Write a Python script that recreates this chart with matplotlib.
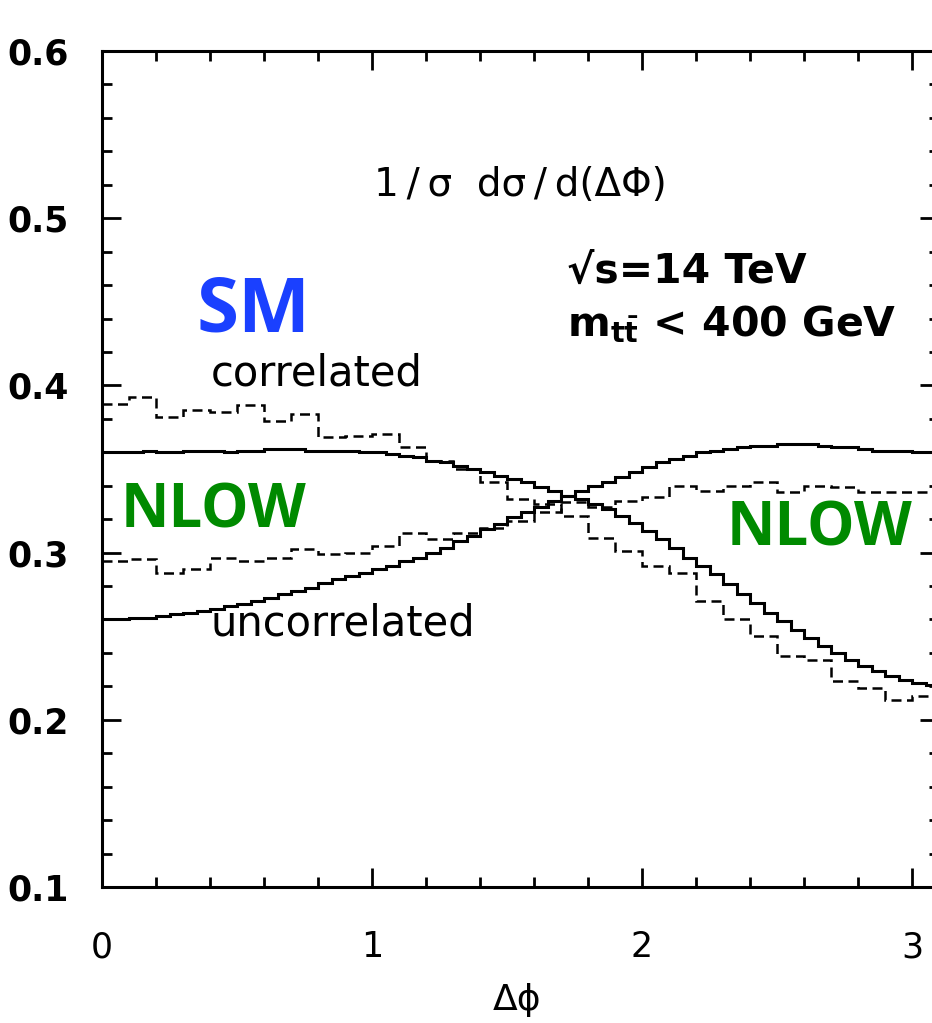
import numpy as np
import matplotlib
matplotlib.use("Agg")
import matplotlib.pyplot as plt
from matplotlib.ticker import MultipleLocator

# ---------------- data ----------------
# solid histograms, 62 bins of 0.05 from 0 to 3.1
solid_edges = np.linspace(0.0, 3.1, 63)
sm_correlated = [
    0.360, 0.360, 0.360, 0.361, 0.360, 0.360, 0.361, 0.361, 0.361, 0.360,
    0.361, 0.361, 0.362, 0.362, 0.362, 0.361, 0.361, 0.361, 0.361, 0.360,
    0.360, 0.359, 0.358, 0.357, 0.355, 0.354, 0.352, 0.350, 0.348, 0.346,
    0.344, 0.342, 0.339, 0.337, 0.334, 0.332, 0.329, 0.326, 0.322, 0.318,
    0.313, 0.308, 0.303, 0.297, 0.292, 0.287, 0.281, 0.275, 0.270, 0.264,
    0.259, 0.254, 0.249, 0.244, 0.240, 0.236, 0.232, 0.229, 0.226, 0.224,
    0.222, 0.221]
sm_uncorrelated = [
    0.260, 0.260, 0.261, 0.261, 0.262, 0.263, 0.264, 0.265, 0.266, 0.268,
    0.269, 0.271, 0.273, 0.275, 0.277, 0.279, 0.282, 0.284, 0.286, 0.288,
    0.290, 0.292, 0.295, 0.297, 0.300, 0.303, 0.307, 0.310, 0.314, 0.317,
    0.321, 0.324, 0.327, 0.331, 0.334, 0.337, 0.340, 0.342, 0.345, 0.348,
    0.351, 0.354, 0.356, 0.358, 0.360, 0.361, 0.362, 0.363, 0.364, 0.364,
    0.365, 0.365, 0.365, 0.364, 0.363, 0.363, 0.362, 0.361, 0.361, 0.361,
    0.360, 0.360]

# dashed histograms, 31 bins of 0.1 from 0 to 3.1
dashed_edges = np.linspace(0.0, 3.1, 32)
nlow_correlated = [
    0.389, 0.393, 0.381, 0.385, 0.384, 0.388, 0.379, 0.383, 0.369, 0.370,
    0.371, 0.363, 0.355, 0.350, 0.342, 0.332, 0.329, 0.322, 0.309, 0.301,
    0.292, 0.288, 0.271, 0.260, 0.250, 0.238, 0.236, 0.223, 0.219, 0.212,
    0.214]
nlow_uncorrelated = [
    0.295, 0.296, 0.288, 0.290, 0.297, 0.295, 0.297, 0.302, 0.299, 0.300,
    0.304, 0.312, 0.308, 0.312, 0.315, 0.319, 0.324, 0.330, 0.327, 0.331,
    0.333, 0.340, 0.337, 0.340, 0.342, 0.336, 0.340, 0.339, 0.336, 0.336,
    0.336]

x_major_ticks = [0, 1, 2, 3]
y_major_ticks = [0.1, 0.2, 0.3, 0.4, 0.5, 0.6]
y_tick_labels = ["0.1", "0.2", "0.3", "0.4", "0.5", "0.6"]

# ---------------- figure ----------------
W, H = 932, 1023
fig = plt.figure(figsize=(W / 100, H / 100), dpi=100)
plt.rcParams['mathtext.fontset'] = 'custom'
plt.rcParams['mathtext.rm'] = 'DejaVu Sans'
plt.rcParams['mathtext.bf'] = 'DejaVu Sans:bold'

left_px, right_px, top_px, bottom_px = 102, 939, 51, 887
ax = fig.add_axes([left_px / W, 1 - bottom_px / H,
                   (right_px - left_px) / W, (bottom_px - top_px) / H])
ax.set_xlim(0, 3.1)
ax.set_ylim(0.1, 0.6)

lw_solid = 2.2
lw_dash = 1.8
ax.stairs(sm_correlated, solid_edges, baseline=None, color='black', linewidth=lw_solid)
ax.stairs(sm_uncorrelated, solid_edges, baseline=None, color='black', linewidth=lw_solid)
ax.stairs(nlow_correlated, dashed_edges, baseline=None, color='black',
          linewidth=lw_dash, linestyle=(0, (4, 2.2)))
ax.stairs(nlow_uncorrelated, dashed_edges, baseline=None, color='black',
          linewidth=lw_dash, linestyle=(0, (4, 2.2)))

for s in ax.spines.values():
    s.set_linewidth(2.2)

ax.set_xticks(x_major_ticks)
ax.set_xticklabels([str(t) for t in x_major_ticks])
ax.xaxis.set_minor_locator(MultipleLocator(0.2))
ax.set_yticks(y_major_ticks)
ax.set_yticklabels(y_tick_labels)
ax.yaxis.set_minor_locator(MultipleLocator(0.02))
ax.tick_params(which='both', direction='in', top=True, right=True, width=2.0)
ax.tick_params(which='major', length=14)
ax.tick_params(which='minor', length=7)
ax.tick_params(axis='x', which='major', pad=31, labelsize=25)
ax.tick_params(axis='y', which='major', pad=24, labelsize=25)
for lab in ax.get_yticklabels():
    lab.set_fontfamily('DejaVu Sans')
    lab.set_fontweight('bold')
for lab in ax.get_xticklabels():
    lab.set_fontfamily('DejaVu Sans')

def px(x, y):
    """figure pixel (from top-left) -> figure fraction"""
    return x / W, 1 - y / H

ft = fig.transFigure
fig.text(*px(517, 1000), 'Δϕ', transform=ft, ha='center', va='center',
         fontsize=26, family='DejaVu Sans')
fig.text(*px(520, 185), '1\u2009/\u2009σ  dσ\u2009/\u2009d(ΔΦ)', transform=ft,
         ha='center', va='center', fontsize=28, family='DejaVu Sans')
fig.text(*px(567, 272), '√s=14 TeV', transform=ft, ha='left', va='center',
         fontsize=29.5, fontweight='bold', family='DejaVu Sans')
fig.text(*px(567, 325), r'$\mathbf{m}_{\mathbf{t\bar{t}}}$ < 400 GeV', transform=ft,
         ha='left', va='center', fontsize=29.5, fontweight='bold',
         family='DejaVu Sans')
fig.text(*px(253, 312), 'SM', transform=ft, ha='center', va='center',
         fontsize=55, fontweight='bold', color='#1a40ff', family='Open Sans')
fig.text(*px(317, 373), 'correlated', transform=ft, ha='center', va='center',
         fontsize=30, family='DejaVu Sans')
fig.text(*px(343, 624), 'uncorrelated', transform=ft, ha='center', va='center',
         fontsize=30, family='DejaVu Sans')
fig.text(*px(213, 512), 'NLOW', transform=ft, ha='center', va='center',
         fontsize=43, fontweight='bold', color='#008a00', family='Open Sans')
fig.text(*px(820, 530), 'NLOW', transform=ft, ha='center', va='center',
         fontsize=43, fontweight='bold', color='#008a00', family='Open Sans')

fig.savefig('out.png', dpi=100)
